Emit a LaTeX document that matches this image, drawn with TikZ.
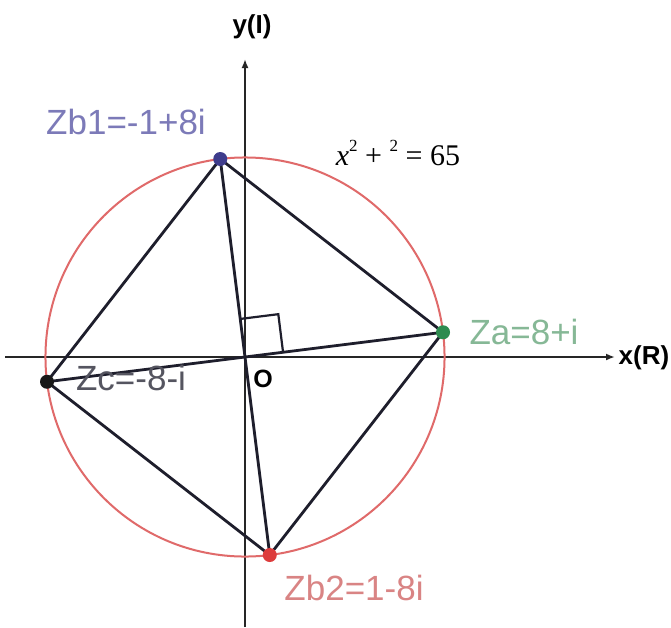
\documentclass[tikz,border=0pt]{standalone}
\usepackage{fontspec}
\setmainfont{Liberation Sans}
\newfontfamily\eqfont{Liberation Serif}
\usetikzlibrary{arrows.meta,calc}
\definecolor{circred}{HTML}{E06A6A}
\definecolor{linecol}{HTML}{1E1E2C}
\definecolor{bonedot}{HTML}{3E3C8C}
\definecolor{bonelab}{HTML}{7C7AB8}
\definecolor{adot}{HTML}{2E8B50}
\definecolor{alab}{HTML}{86B896}
\definecolor{btwodot}{HTML}{DD3C3C}
\definecolor{btwolab}{HTML}{D98484}
\definecolor{clab}{HTML}{555560}
\tikzset{
  axisline/.style={line width=2.4pt, draw=black!85, -{Latex[length=9pt,width=7pt]}},
  sideline/.style={line width=2.8pt, draw=linecol},
  circline/.style={line width=2pt, draw=circred},
  ptdot/.style={circle, inner sep=0pt, minimum size=14pt},
  ptlabel/.style={font=\fontsize{35}{40}\selectfont, inner sep=0pt},
  axlabel/.style={font=\fontsize{26}{30}\selectfont\bfseries, inner sep=0pt}
}
\begin{document}
\begin{tikzpicture}[x=1pt,y=-1pt]
\useasboundingbox (0,0) rectangle (671,627);
\fill[white] (0,0) rectangle (671,627);
% axes
\coordinate (xs) at (5,357);
\coordinate (xe) at (615,357);
\coordinate (ys) at (245,627);
\coordinate (ye) at (245,59);
\draw[axisline] (xs) -- (xe);
\draw[axisline] (ys) -- (ye);
\node[axlabel] (xlab) at (644,358) {x(R)};
\node[axlabel] (ylab) at (252,27) {y(I)};
\begin{scope}[shift={(245,357)}, x=24.75pt, y=24.75pt]
  \coordinate (O) at (0,0);
  \coordinate (Za) at (8,1);
  \coordinate (Zb1) at (-1,8);
  \coordinate (Zb2) at (1,-8);
  \coordinate (Zc) at (-8,-1);
  \draw[circline] (O) circle[radius=8.062];
  \draw[sideline] (Zb1) -- (Za) -- (Zb2) -- (Zc) -- cycle;
  \draw[sideline] (Zb1) -- (Zb2);
  \draw[sideline] (Zc) -- (Za);
  \coordinate (P1) at ($(O)!1.55/8.062!(Za)$);
  \coordinate (P2) at ($(O)!1.55/8.062!(Zb1)$);
  \coordinate (PC) at ($(P1)+(P2)$);
  \draw[line width=2.2pt, draw=linecol] (P1) -- (PC) -- (P2);
  \node[ptdot, fill=adot] (dZa) at (Za) {};
  \node[ptdot, fill=bonedot] (dZb1) at (Zb1) {};
  \node[ptdot, fill=btwodot] (dZb2) at (Zb2) {};
  \node[ptdot, fill=black!90] (dZc) at (Zc) {};
\end{scope}
\node[ptlabel, text=bonelab] (lZb1) at (126,122) {Zb1=-1+8i};
\node[ptlabel, text=alab] (lZa) at (524,332) {Za=8+i};
\node[ptlabel, text=btwolab] (lZb2) at (354,588) {Zb2=1-8i};
\node[ptlabel, text=clab] (lZc) at (131,378) {Zc=-8-i};
\node[font=\fontsize{25}{30}\selectfont\bfseries, inner sep=0pt] (lO) at (263,379) {O};
\node[font=\eqfont\fontsize{30}{34}\selectfont, inner sep=0pt] (eq) at (398,153)
  {\textit{x}\raisebox{0.45em}{\fontsize{17}{20}\selectfont 2} + \raisebox{0.45em}{\fontsize{17}{20}\selectfont 2} = 65};
\end{tikzpicture}
\end{document}
